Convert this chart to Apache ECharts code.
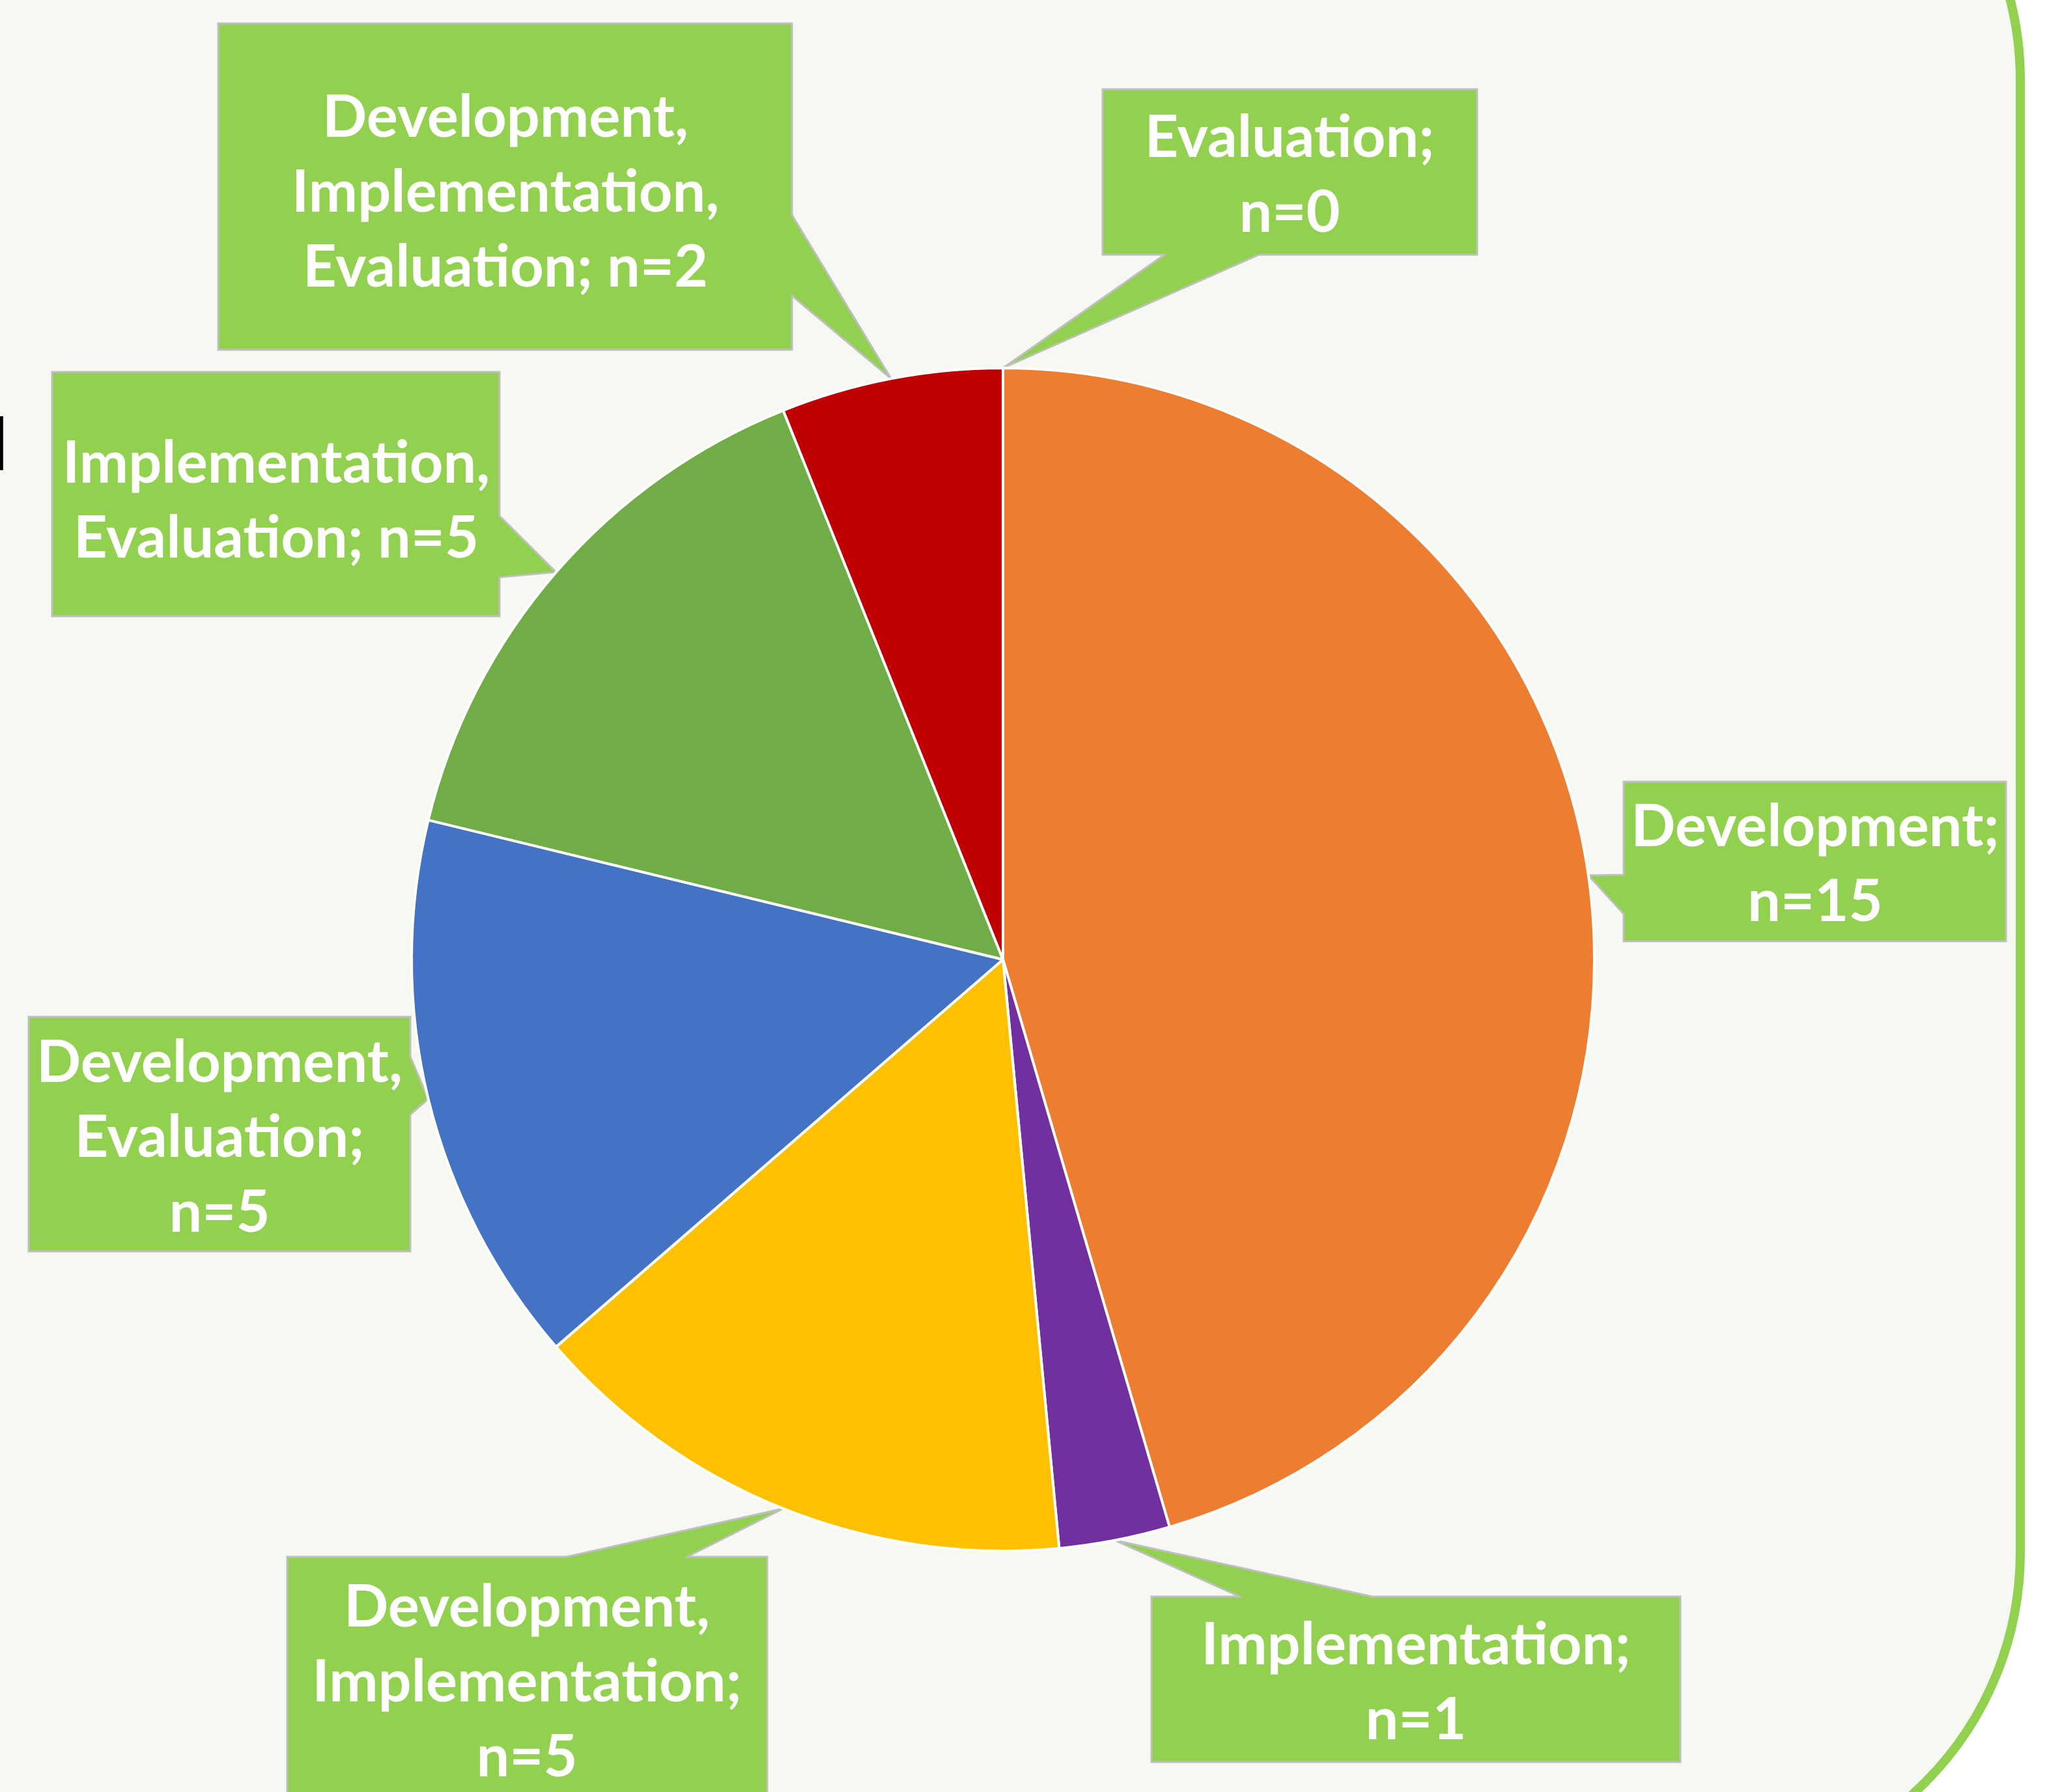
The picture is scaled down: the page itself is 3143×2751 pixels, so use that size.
<!DOCTYPE html>
<html>
<head>
<meta charset="utf-8">
<script src="https://cdn.jsdelivr.net/npm/echarts@6/dist/echarts.min.js"></script>
<style>
  html, body { margin: 0; padding: 0; background: #ffffff; }
  #chart { width: 3143px; height: 2751px; }
</style>
</head>
<body>
<div id="chart"></div>
<script>
// ---- data ----
const categories = [
  'Development',
  'Implementation',
  'Development, Implementation',
  'Development, Evaluation',
  'Implementation, Evaluation',
  'Development, Implementation, Evaluation',
  'Evaluation'
];
const values = [15, 1, 5, 5, 5, 2, 0];

// ---- styling / layout (not data) ----
const sliceColors = ['#ED7D31', '#7030A0', '#FFC000', '#4472C4', '#70AD47', '#C00000', '#ED7D31'];
// whether "n=" goes on its own line
const nOnNewLine = [true, true, true, true, false, false, true];
// callout boxes [x0, y0, x1, y1], side of the pointer and its base span
const callouts = [
  { box: [2493, 1200, 3080, 1445], side: 'left',   a: 1343, b: 1403, text: [2787, 1327] },
  { box: [1768, 2451, 2580, 2705], side: 'top',    a: 1903, b: 2107, text: [2174, 2583] },
  { box: [441, 2390, 1178, 2820],  side: 'top',    a: 870,  b: 1055, text: [809, 2583] },
  { box: [44, 1561, 630, 1921],    side: 'right',  a: 1622, b: 1711, text: [337, 1747] },
  { box: [80, 571, 767, 946],      side: 'right',  a: 792,  b: 886,  text: [424, 769] },
  { box: [335, 36, 1216, 537],     side: 'right',  a: 330,  b: 454,  text: [776, 296] },
  { box: [1693, 137, 2268, 391],   side: 'bottom', a: 1788, b: 1933, text: [1980, 269] }
];
const pieCenter = [1540, 1473];
const pieRadius = 908;

const chart = echarts.init(document.getElementById('chart'), null, { renderer: 'canvas' });

const seriesData = categories.map((name, i) => ({
  name: name,
  value: values[i],
  itemStyle: { color: sliceColors[i] }
}));

chart.setOption({
  backgroundColor: '#ffffff',
  animation: false,
  series: [{
    type: 'pie',
    center: pieCenter,
    radius: pieRadius,
    startAngle: 90,
    clockwise: true,
    avoidLabelOverlap: false,
    minShowLabelAngle: 0,
    z: 5,
    itemStyle: { borderColor: '#ffffff', borderWidth: 4 },
    emphasis: { disabled: true },
    label: {
      show: true,
      position: 'outside',
      color: '#ffffff',
      fontFamily: 'Lato',
      fontWeight: 'bold',
      fontSize: 90,
      lineHeight: 115,
      align: 'center',
      formatter: function (p) {
        const i = p.dataIndex;
        const name = p.name.split(', ').join(',\n');
        return name + ';' + (nOnNewLine[i] ? '\n' : ' ') + 'n=' + p.value;
      }
    },
    labelLine: { show: false },
    labelLayout: function (params) {
      const c = callouts[params.dataIndex].text;
      return { x: c[0], y: c[1], align: 'center', verticalAlign: 'middle' };
    },
    data: seriesData
  }]
});

// ---- callout shapes: tip at the middle of each slice, from the library's layout ----
function tipFor(i) {
  let lay = null;
  try {
    lay = chart.getModel().getSeriesByIndex(0).getData().getItemLayout(i);
  } catch (e) { lay = null; }
  if (lay && isFinite(lay.startAngle)) {
    const mid = (lay.startAngle + lay.endAngle) / 2;
    return [lay.cx + lay.r * Math.cos(mid), lay.cy + lay.r * Math.sin(mid)];
  }
  const total = values.reduce((s, v) => s + v, 0);
  let cum = 0;
  for (let k = 0; k < i; k++) cum += values[k];
  const mid = -Math.PI / 2 + (cum + values[i] / 2) / total * Math.PI * 2;
  return [pieCenter[0] + pieRadius * Math.cos(mid), pieCenter[1] + pieRadius * Math.sin(mid)];
}

function calloutPoints(c, tip) {
  const [x0, y0, x1, y1] = c.box;
  const a = c.a, b = c.b;
  switch (c.side) {
    case 'top':    return [[x0, y0], [a, y0], tip, [b, y0], [x1, y0], [x1, y1], [x0, y1]];
    case 'right':  return [[x0, y0], [x1, y0], [x1, a], tip, [x1, b], [x1, y1], [x0, y1]];
    case 'bottom': return [[x0, y0], [x1, y0], [x1, y1], [b, y1], tip, [a, y1], [x0, y1]];
    default:       return [[x0, y0], [x1, y0], [x1, y1], [x0, y1], [x0, b], tip, [x0, a]];
  }
}

const graphics = [
  {
    type: 'rect',
    z: 0,
    silent: true,
    shape: { x: -600, y: -377, width: 3702, height: 3260, r: 500 },
    style: { fill: '#F5F9F2', stroke: '#92D050', lineWidth: 14 }
  },
  {
    type: 'text',
    z: 1,
    silent: true,
    style: { text: 'l', x: -16, y: 630, font: 'bold 112px Lato', fill: '#000000', textVerticalAlign: 'top' }
  }
];
callouts.forEach((c, i) => {
  graphics.push({
    type: 'polygon',
    z: 1,
    silent: true,
    shape: { points: calloutPoints(c, tipFor(i)) },
    style: { fill: '#92D050', stroke: '#BFBFBF', lineWidth: 3, lineJoin: 'miter' }
  });
});
chart.setOption({ graphic: graphics });
</script>
</body>
</html>
